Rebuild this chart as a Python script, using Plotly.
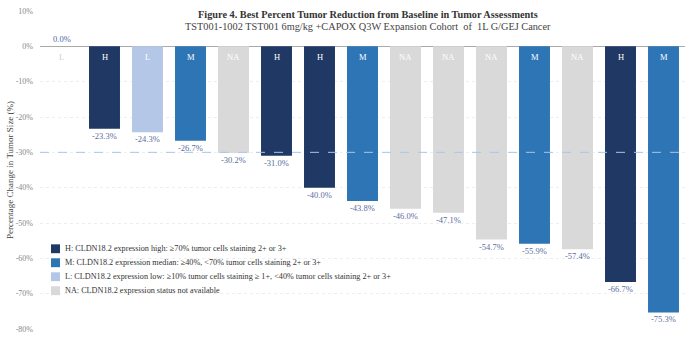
import plotly.graph_objects as go

patients = [f"Pt{i}" for i in range(1, 16)]
levels = ["L", "H", "L", "M", "NA", "H", "H", "M", "NA", "NA", "NA", "M", "NA", "H", "M"]
values = [0.0, -23.3, -24.3, -26.7, -30.2, -31.0, -40.0, -43.8, -46.0, -47.1, -54.7, -55.9, -57.4, -66.7, -75.3]
level_order = ["H", "M", "L", "NA"]
level_names = {
    "H": "H: CLDN18.2 expression high: \u226570% tumor cells staining 2+ or 3+",
    "M": "M: CLDN18.2 expression median: \u226540%, <70% tumor cells staining 2+ or 3+",
    "L": "L: CLDN18.2 expression low: \u226510% tumor cells staining \u2265 1+, <40% tumor cells staining 2+ or 3+",
    "NA": "NA: CLDN18.2 expression status not available",
}
colors = {"H": "#1f3864", "M": "#2e75b6", "L": "#b4c7e7", "NA": "#d9d9d9"}
yticks = [10, 0, -10, -20, -30, -40, -50, -60, -70, -80]
threshold = -30
title1 = "Figure 4. Best Percent Tumor Reduction from Baseline in Tumor Assessments"
title2 = "TST001-1002 TST001 6mg/kg +CAPOX Q3W Expansion Cohort&nbsp; of&nbsp; 1L G/GEJ Cancer"

FONT = "Liberation Serif"
fig = go.Figure()
for lv in level_order:
    xs = [p for p, l in zip(patients, levels) if l == lv]
    ys = [v for v, l in zip(values, levels) if l == lv]
    fig.add_trace(go.Bar(x=xs, y=ys, name=level_names[lv], marker_color=colors[lv],
                         marker_line_width=0, hoverinfo="skip", showlegend=False))

annotations = []
for p, l, v in zip(patients, levels, values):
    annotations.append(dict(x=p, y=0, yshift=-11, text=l, showarrow=False,
                            font=dict(family=FONT, size=8.5,
                                      color="#cfcfcf" if v == 0 else "white")))
    if v == 0:
        annotations.append(dict(x=p, y=v, yshift=7, text=f"{v:.1f}%", showarrow=False,
                                font=dict(family=FONT, size=8.5, color="#4a68a8")))
    else:
        annotations.append(dict(x=p, y=v, yshift=-7, text=f"{v:.1f}%", showarrow=False,
                                font=dict(family=FONT, size=8.5, color="#5b6e9e")))
annotations.append(dict(xref="paper", yref="paper", x=0.508, y=1.0, yshift=4, yanchor="top",
                        text=f"<b>{title1}</b>", showarrow=False,
                        font=dict(family=FONT, size=10.3, color="#333333")))
annotations.append(dict(xref="paper", yref="paper", x=0.508, y=1.0, yshift=-8, yanchor="top",
                        text=title2, showarrow=False,
                        font=dict(family=FONT, size=10.3, color="#444444")))

shapes = [dict(type="line", xref="paper", x0=0, x1=1, y0=threshold, y1=threshold,
               line=dict(color="#a9c4ec", width=1, dash="dash"))]

# manual legend (compact spacing like the reference)
plot_w, plot_h = 699 - 40 - 14, 339 - 11 - 5
lx0 = (51 - 40) / plot_w
lx1 = (60 - 40) / plot_w
tx = (63 - 40) / plot_w
for i, lv in enumerate(level_order):
    cy = 252.5 + i * 14.2
    y_top = (334 - (cy - 4.5)) / plot_h
    y_bot = (334 - (cy + 4.5)) / plot_h
    shapes.append(dict(type="rect", xref="paper", yref="paper", x0=lx0, x1=lx1,
                       y0=y_bot, y1=y_top, fillcolor=colors[lv], line_width=0))
    annotations.append(dict(xref="paper", yref="paper", x=tx, y=(334 - cy) / plot_h,
                            xanchor="left", yanchor="middle", text=level_names[lv],
                            showarrow=False,
                            font=dict(family=FONT, size=8.2, color="#333333")))

fig.update_layout(
    width=699, height=339,
    margin=dict(l=40, r=14, t=11, b=5),
    paper_bgcolor="white", plot_bgcolor="white",
    barmode="overlay", bargap=0.28,
    showlegend=False,
    annotations=annotations,
    shapes=shapes,
    xaxis=dict(type="category", categoryorder="array", categoryarray=patients,
               showticklabels=False, showgrid=False, zeroline=False, showline=False,
               ticks=""),
    yaxis=dict(range=[-80, 10], tickvals=yticks, ticktext=[f"{t}%" for t in yticks],
               tickfont=dict(family=FONT, size=8, color="#888888"),
               showgrid=True, gridcolor="#eeeeee", griddash="dot", gridwidth=1,
               zeroline=True, zerolinecolor="#aaaaaa", zerolinewidth=1,
               showline=False, ticks="", ticklabelstandoff=6,
               title=dict(text="Percentage Change in Tumor Size (%)", standoff=0,
                          font=dict(family=FONT, size=9, color="#444444"))),
)
fig.write_html("out.html")
